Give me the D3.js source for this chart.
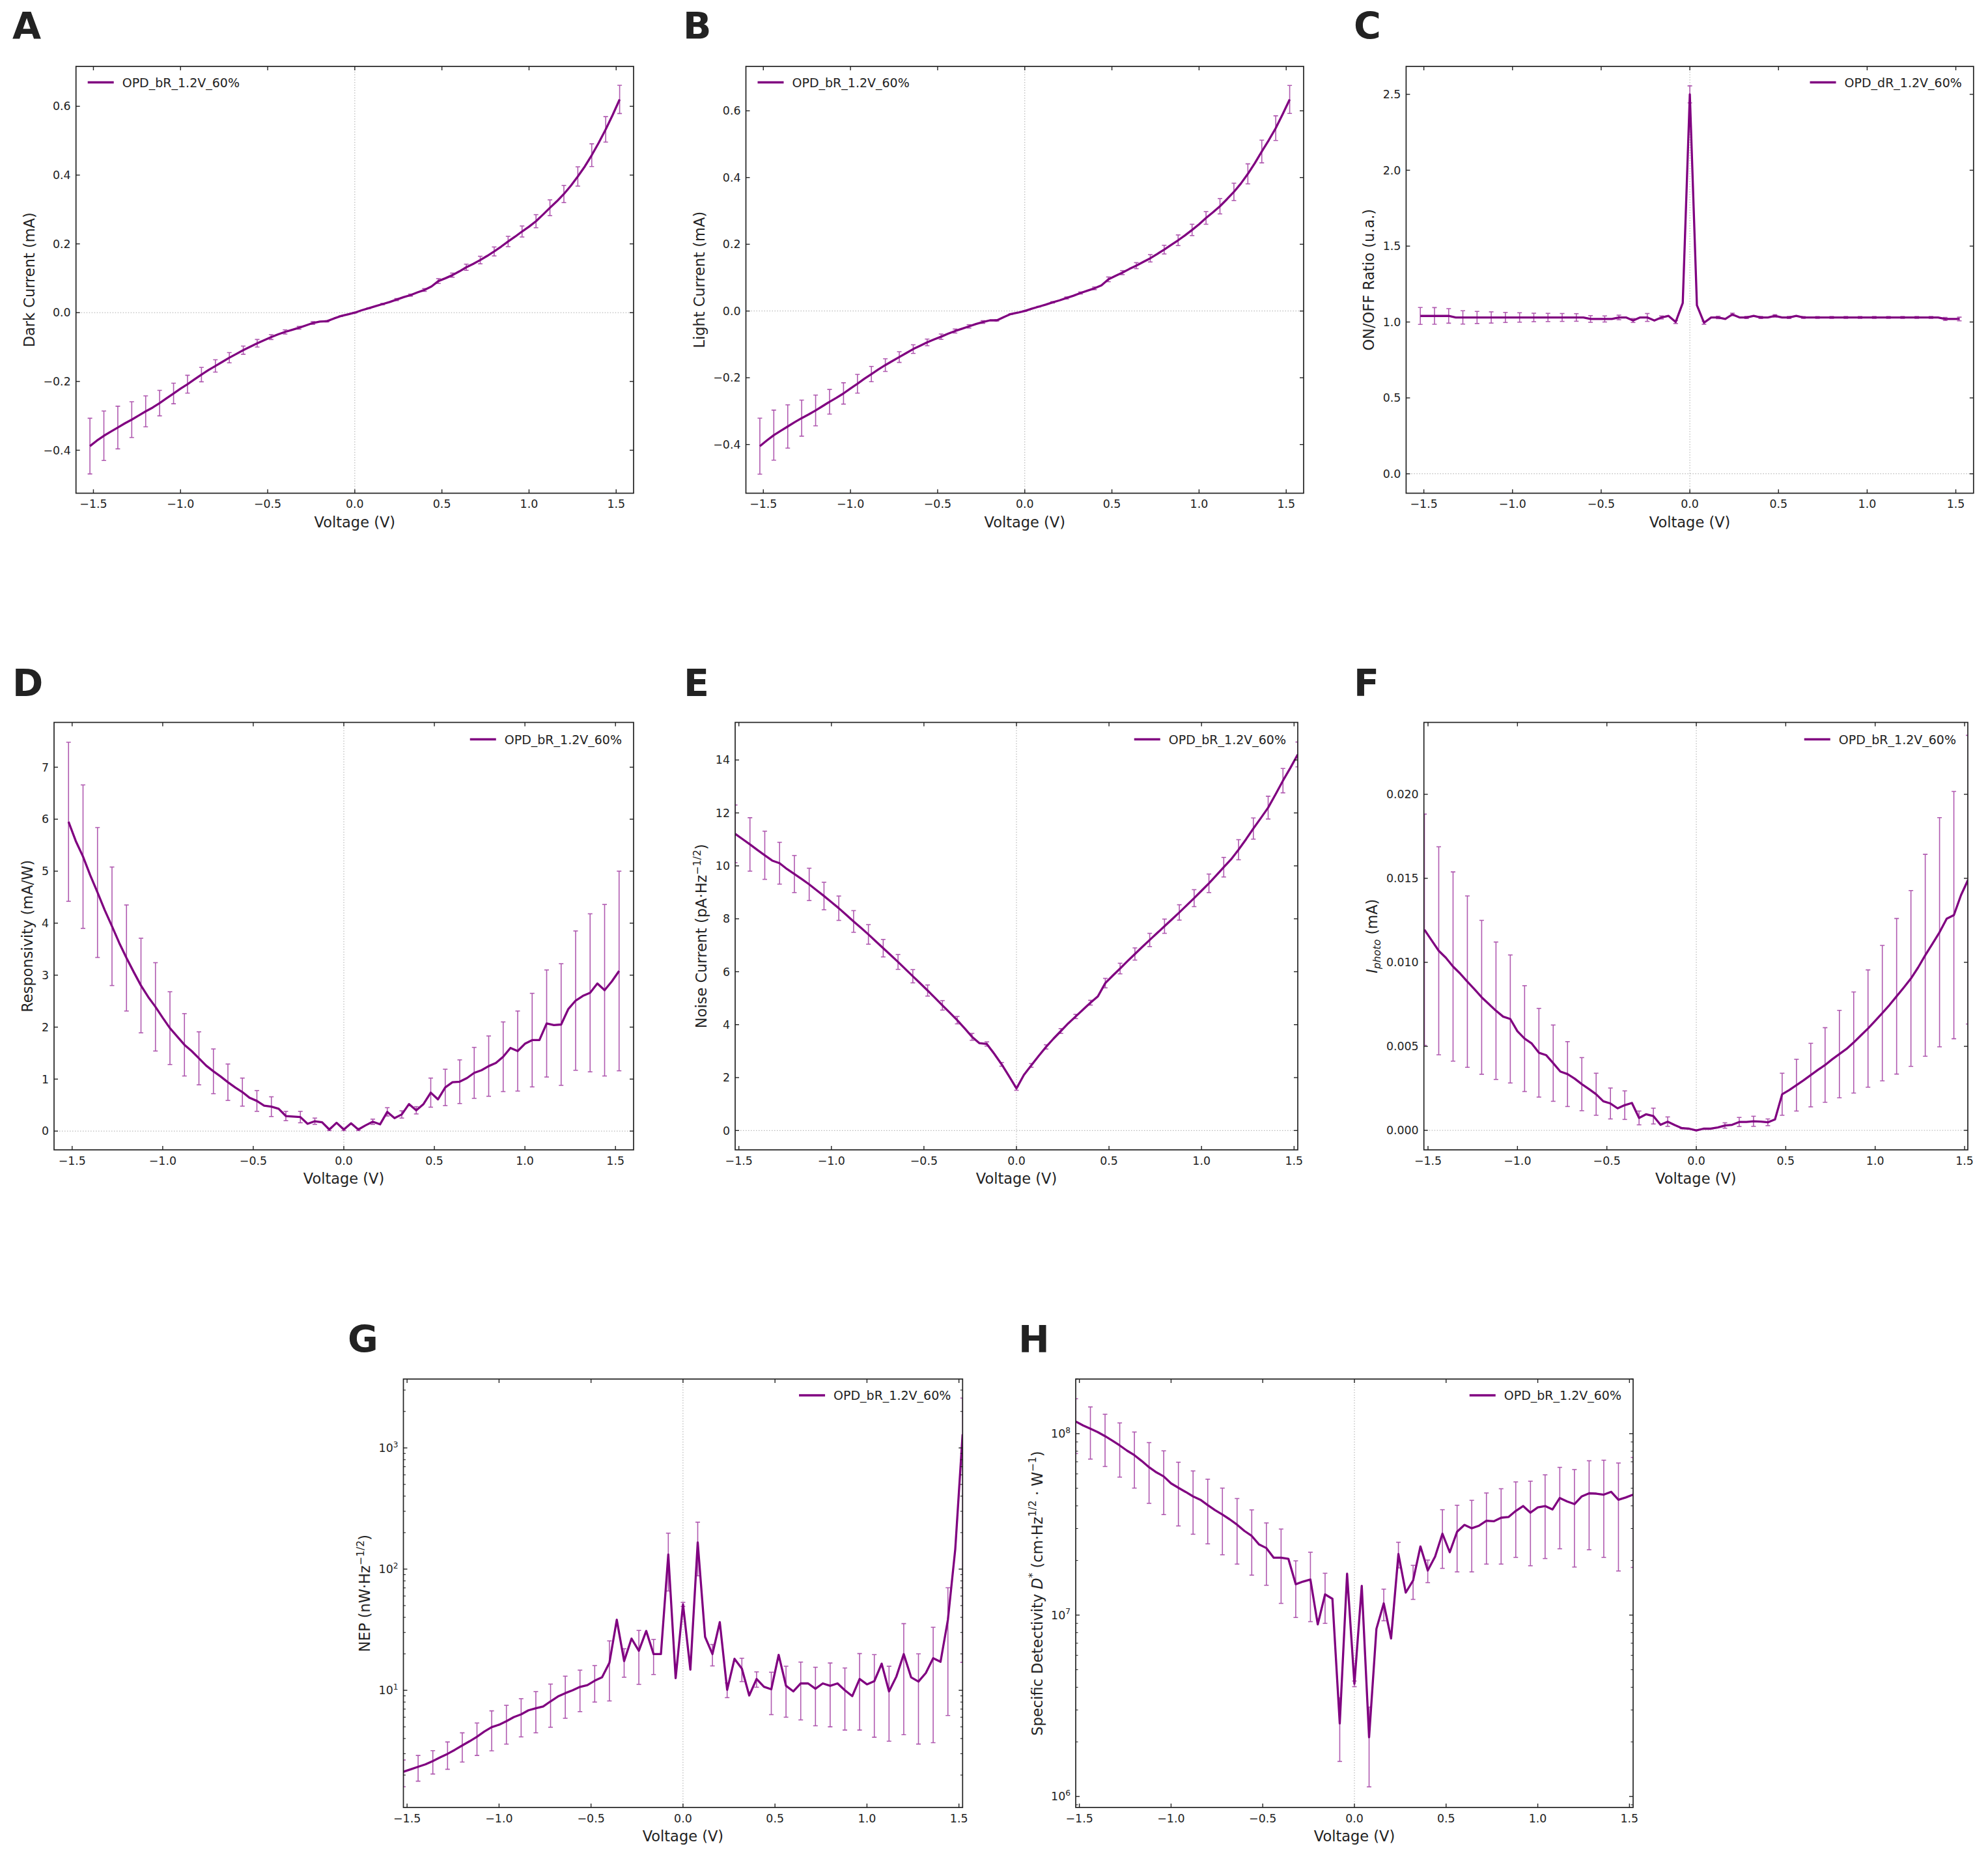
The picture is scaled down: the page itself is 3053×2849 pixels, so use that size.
<!DOCTYPE html>
<html lang="en">
<head>
    <meta charset="UTF-8">
    <title>OPD characterisation - 8 panels</title>
    <script src="https://d3js.org/d3.v7.min.js"></script>
    <style>
        body { margin: 0; background: #fff; }
        svg text { font-family: "DejaVu Sans", "Liberation Sans", sans-serif; fill: #222; }
    </style>
</head>
<body>
    <svg id="fig" width="3053" height="2849"></svg>

    <script>
        // Bias sweep (V), one point every 0.04 V; error bars are drawn on every other point
        const voltage = [-1.52, -1.48, -1.44, -1.40, -1.36, -1.32, -1.28, -1.24, -1.20, -1.16, -1.12, -1.08, -1.04, -1.00,
            -0.96, -0.92, -0.88, -0.84, -0.80, -0.76, -0.72, -0.68, -0.64, -0.60, -0.56, -0.52, -0.48, -0.44, -0.40, -0.36,
            -0.32, -0.28, -0.24, -0.20, -0.16, -0.12, -0.08, -0.04, 0.00, 0.04, 0.08, 0.12, 0.16, 0.20, 0.24, 0.28, 0.32,
            0.36, 0.40, 0.44, 0.48, 0.52, 0.56, 0.60, 0.64, 0.68, 0.72, 0.76, 0.80, 0.84, 0.88, 0.92, 0.96, 1.00, 1.04,
            1.08, 1.12, 1.16, 1.20, 1.24, 1.28, 1.32, 1.36, 1.40, 1.44, 1.48, 1.52];

        // A - dark current (mA)
        const darkCurrent = [-0.388, -0.372, -0.358, -0.346, -0.334, -0.322, -0.311, -0.299, -0.287, -0.276, -0.263, -0.249,
            -0.235, -0.221, -0.208, -0.194, -0.180, -0.167, -0.155, -0.143, -0.131, -0.120, -0.109, -0.099, -0.089, -0.080,
            -0.071, -0.063, -0.056, -0.050, -0.044, -0.037, -0.030, -0.026, -0.025, -0.017, -0.010, -0.005, 0.000, 0.007,
            0.013, 0.019, 0.025, 0.031, 0.038, 0.045, 0.051, 0.059, 0.066, 0.076, 0.092, 0.100, 0.109, 0.120, 0.132, 0.142,
            0.153, 0.165, 0.178, 0.192, 0.207, 0.221, 0.236, 0.250, 0.266, 0.285, 0.305, 0.324, 0.345, 0.369, 0.396, 0.425,
            0.458, 0.494, 0.533, 0.575, 0.620];
        const darkCurrentErr = [0.081, 0.072, 0.062, 0.052, 0.045, 0.037, 0.030, 0.026, 0.021, 0.018, 0.015, 0.012, 0.011,
            0.007, 0.006, 0.004, 0.004, 0.002, 0.001, 0.001, 0.001, 0.002, 0.003, 0.003, 0.004, 0.007, 0.006, 0.009, 0.011,
            0.013, 0.015, 0.016, 0.019, 0.023, 0.025, 0.028, 0.033, 0.037, 0.041];

        // B - light current (mA)
        const lightCurrent = [-0.405, -0.388, -0.372, -0.359, -0.346, -0.333, -0.321, -0.310, -0.298, -0.285, -0.272, -0.260,
            -0.247, -0.232, -0.218, -0.203, -0.189, -0.175, -0.162, -0.150, -0.138, -0.126, -0.114, -0.104, -0.094, -0.085,
            -0.077, -0.068, -0.060, -0.053, -0.046, -0.039, -0.033, -0.028, -0.028, -0.018, -0.009, -0.005, 0.000, 0.007,
            0.013, 0.019, 0.026, 0.032, 0.039, 0.046, 0.054, 0.061, 0.068, 0.077, 0.095, 0.105, 0.115, 0.126, 0.136, 0.147,
            0.158, 0.171, 0.184, 0.198, 0.212, 0.227, 0.243, 0.260, 0.279, 0.296, 0.314, 0.335, 0.357, 0.382, 0.411, 0.443,
            0.478, 0.512, 0.548, 0.590, 0.634];
        const lightCurrentErr = [0.084, 0.075, 0.065, 0.054, 0.046, 0.037, 0.032, 0.028, 0.023, 0.019, 0.016, 0.013, 0.010,
            0.008, 0.006, 0.005, 0.004, 0.002, 0.001, 0.001, 0.001, 0.002, 0.003, 0.003, 0.004, 0.007, 0.006, 0.009, 0.011,
            0.013, 0.016, 0.017, 0.019, 0.023, 0.026, 0.030, 0.034, 0.037, 0.042];

        // C - ON/OFF ratio
        const onOffRatio = [1.04, 1.04, 1.04, 1.04, 1.04, 1.03, 1.03, 1.03, 1.03, 1.03, 1.03, 1.03, 1.03, 1.03, 1.03, 1.03,
            1.03, 1.03, 1.03, 1.03, 1.03, 1.03, 1.03, 1.03, 1.02, 1.02, 1.02, 1.02, 1.03, 1.03, 1.01, 1.03, 1.03, 1.01, 1.03,
            1.04, 1.00, 1.125, 2.50, 1.11, 0.995, 1.03, 1.03, 1.02, 1.05, 1.03, 1.03, 1.04, 1.03, 1.03, 1.04, 1.03, 1.03, 1.04,
            1.03, 1.03, 1.03, 1.03, 1.03, 1.03, 1.03, 1.03, 1.03, 1.03, 1.03, 1.03, 1.03, 1.03, 1.03, 1.03, 1.03, 1.03, 1.03,
            1.03, 1.02, 1.02, 1.02];
        const onOffErr = [0.056, 0.055, 0.048, 0.044, 0.040, 0.037, 0.033, 0.031, 0.028, 0.027, 0.026, 0.025, 0.022, 0.020,
            0.015, 0.013, 0.026, 0.010, 0.010, 0.056, 0.010, 0.008, 0.008, 0.007, 0.007, 0.008, 0.007, 0.006, 0.006, 0.006,
            0.006, 0.006, 0.006, 0.006, 0.006, 0.006, 0.006, 0.010, 0.012];

        // D - responsivity (mA/W)
        const responsivity = [5.95, 5.58, 5.28, 4.92, 4.59, 4.25, 3.94, 3.62, 3.33, 3.06, 2.80, 2.58, 2.39, 2.18, 1.98, 1.82,
            1.66, 1.54, 1.40, 1.26, 1.15, 1.05, 0.94, 0.84, 0.75, 0.64, 0.58, 0.49, 0.47, 0.43, 0.29, 0.28, 0.27, 0.14, 0.19,
            0.17, 0.03, 0.16, 0.03, 0.15, 0.03, 0.11, 0.18, 0.13, 0.37, 0.25, 0.32, 0.52, 0.40, 0.52, 0.74, 0.61, 0.84, 0.94,
            0.95, 1.02, 1.12, 1.17, 1.25, 1.31, 1.43, 1.60, 1.54, 1.68, 1.75, 1.75, 2.07, 2.04, 2.05, 2.35, 2.51, 2.60, 2.66,
            2.84, 2.71, 2.88, 3.08];
        const responsivityErr = [1.53, 1.38, 1.25, 1.14, 1.02, 0.91, 0.85, 0.70, 0.60, 0.51, 0.43, 0.35, 0.27, 0.20, 0.19,
            0.09, 0.11, 0.06, 0.02, 0.02, 0.02, 0.05, 0.08, 0.07, 0.07, 0.28, 0.35, 0.42, 0.49, 0.58, 0.67, 0.77, 0.90, 1.03,
            1.17, 1.34, 1.52, 1.65, 1.92];

        // E - noise current (pA Hz^-1/2)
        const noiseCurrent = [11.21, 11.01, 10.81, 10.60, 10.40, 10.20, 10.10, 9.88, 9.69, 9.50, 9.30, 9.08, 8.86, 8.63, 8.40,
            8.15, 7.90, 7.66, 7.41, 7.15, 6.89, 6.63, 6.37, 6.10, 5.83, 5.56, 5.29, 5.01, 4.73, 4.45, 4.17, 3.86, 3.54, 3.30,
            3.27, 2.90, 2.50, 2.05, 1.59, 2.10, 2.46, 2.82, 3.16, 3.47, 3.76, 4.05, 4.31, 4.57, 4.83, 5.07, 5.57, 5.85, 6.12,
            6.40, 6.67, 6.94, 7.20, 7.46, 7.72, 7.98, 8.24, 8.51, 8.78, 9.06, 9.34, 9.64, 9.95, 10.25, 10.61, 11.00, 11.41,
            11.80, 12.20, 12.70, 13.22, 13.70, 14.21];
        const noiseErr = [1.09, 1.01, 0.91, 0.79, 0.70, 0.61, 0.52, 0.46, 0.41, 0.37, 0.33, 0.28, 0.25, 0.21, 0.18, 0.14, 0.13,
            0.08, 0.07, 0.07, 0.07, 0.08, 0.09, 0.08, 0.09, 0.18, 0.20, 0.23, 0.25, 0.27, 0.29, 0.32, 0.35, 0.37, 0.38, 0.40,
            0.43, 0.46, 0.47];

        // F - photocurrent (mA)
        const photoCurrent = [0.01194, 0.01131, 0.01069, 0.01027, 0.00975, 0.00933, 0.00885, 0.00840, 0.00792, 0.00752,
            0.00712, 0.00677, 0.00663, 0.00590, 0.00546, 0.00517, 0.00462, 0.00448, 0.00400, 0.00350, 0.00335, 0.00308,
            0.00275, 0.00246, 0.00215, 0.00173, 0.00160, 0.00131, 0.00150, 0.00163, 0.00074, 0.00096, 0.00085, 0.00033,
            0.00052, 0.00031, 0.00013, 0.00010, 0.00000, 0.00010, 0.00010, 0.00017, 0.00029, 0.00033, 0.00050, 0.00050,
            0.00054, 0.00052, 0.00048, 0.00065, 0.00215, 0.00240, 0.00269, 0.00298, 0.00329, 0.00360, 0.00389, 0.00423,
            0.00454, 0.00485, 0.00523, 0.00565, 0.00606, 0.00652, 0.00698, 0.00746, 0.00798, 0.00850, 0.00904, 0.00969,
            0.01042, 0.01110, 0.01179, 0.01260, 0.01281, 0.01400, 0.01492];
        const photoErr = [0.00688, 0.00619, 0.00563, 0.00510, 0.00458, 0.00409, 0.00381, 0.00315, 0.00264, 0.00227, 0.00193,
            0.00158, 0.00125, 0.00092, 0.00085, 0.00041, 0.00047, 0.00028, 0.00003, 0.00001, 0.00002, 0.00016, 0.00027,
            0.00030, 0.00020, 0.00125, 0.00154, 0.00189, 0.00222, 0.00260, 0.00301, 0.00349, 0.00403, 0.00463, 0.00523,
            0.00601, 0.00682, 0.00736, 0.00859];

        // G - NEP (nW Hz^-1/2)
        const nep = [2.13, 2.23, 2.34, 2.45, 2.61, 2.80, 2.99, 3.23, 3.51, 3.80, 4.14, 4.57, 4.97, 5.20, 5.56, 6.01, 6.33, 6.84,
            7.11, 7.36, 8.11, 8.89, 9.48, 10.0, 10.67, 11.03, 12.0, 12.82, 16.87, 38.2, 17.42, 26.7, 21.2, 30.9, 19.9, 19.9,
            132, 12.6, 51.2, 14.8, 166, 27.6, 19.9, 36.5, 10.1, 18.2, 15.1, 9.07, 12.4, 10.7, 10.2, 19.6, 10.9, 9.80, 11.4,
            11.4, 10.3, 11.4, 10.9, 11.4, 10.0, 8.95, 12.4, 11.2, 11.9, 16.6, 9.80, 13.0, 19.9, 12.8, 11.8, 13.9, 18.4, 17.2,
            38.2, 146, 1297];
        const nepErr = [0.53, 0.56, 0.57, 0.76, 0.95, 1.24, 1.80, 1.96, 2.2, 2.65, 3.15, 3.6, 4.0, 4.0, 8.7, 4.6, 10, 6.4, 66,
            2, 78, 4, 1.4, 3.3, 1.8, 3.9, 4.9, 5.7, 5.2, 5.9, 5.3, 7.7, 7.8, 6.0, 15.6, 8.2, 14.7, 32, 1280];

        // H - specific detectivity (cm Hz^1/2 W^-1)
        const detectivity = [1.167e8, 1.11e8, 1.064e8, 1.02e8, 9.69e7, 9.15e7, 8.61e7, 8.06e7, 7.61e7, 7.07e7, 6.53e7, 6.12e7,
            5.81e7, 5.32e7, 5.03e7, 4.77e7, 4.51e7, 4.32e7, 4.04e7, 3.79e7, 3.58e7, 3.37e7, 3.15e7, 2.91e7, 2.73e7, 2.45e7,
            2.34e7, 2.07e7, 2.07e7, 2.04e7, 1.48e7, 1.53e7, 1.57e7, 8.89e6, 1.30e7, 1.23e7, 2.53e6, 1.69e7, 4.18e6, 1.45e7,
            2.12e6, 8.40e6, 1.16e7, 7.43e6, 2.17e7, 1.33e7, 1.55e7, 2.39e7, 1.76e7, 2.10e7, 2.81e7, 2.22e7, 2.88e7, 3.14e7,
            3.01e7, 3.11e7, 3.31e7, 3.29e7, 3.44e7, 3.47e7, 3.75e7, 3.99e7, 3.67e7, 3.92e7, 3.99e7, 3.82e7, 4.42e7, 4.23e7,
            4.09e7, 4.51e7, 4.69e7, 4.67e7, 4.61e7, 4.78e7, 4.32e7, 4.45e7, 4.61e7];
        const detectivityErr = [3.9e7, 3.4e7, 3.1e7, 2.85e7, 2.6e7, 2.4e7, 2.23e7, 1.93e7, 1.72e7, 1.57e7, 1.43e7, 1.24e7,
            1.07e7, 8.8e6, 9.1e6, 5.1e6, 6.5e6, 4e6, 9.7e5, 1.5e5, 9.9e5, 2.3e6, 3.5e6, 3.3e6, 2.5e6, 1.0e7, 1.15e7, 1.28e7,
            1.4e7, 1.53e7, 1.67e7, 1.8e7, 1.94e7, 2.1e7, 2.25e7, 2.4e7, 2.53e7, 2.57e7, 2.78e7];

        const voltageTicks = [-1.5, -1.0, -0.5, 0.0, 0.5, 1.0, 1.5];

        const PURPLE = "#800080";
        const ERRCOL = "#b05ab0";
        const INK = "#222";
        const TICK_FS = 17.4, LEG_FS = 19, LAB_FS = 22.5;

        const svg = d3.select("#fig");
        let clipId = 0;

        // write a label made of plain / superscript / subscript / italic parts
        function richText(sel, parts, fs) {
            let shift = 0;
            parts.forEach(p => {
                const want = p.sup ? -0.42 * fs : (p.sub ? 0.22 * fs : 0);
                const ts = sel.append("tspan").text(p.t)
                    .attr("dy", want - shift)
                    .attr("font-size", (p.sup || p.sub) ? fs * 0.7 : fs);
                if (p.italic) ts.attr("font-style", "italic");
                shift = want;
            });
        }

        function drawPanel(cfg) {
            const w = cfg.box[2] - cfg.box[0];
            const h = cfg.box[3] - cfg.box[1];
            const g = svg.append("g").attr("transform", `translate(${cfg.box[0]},${cfg.box[1]})`);

            const x = d3.scaleLinear().domain(cfg.xDomain).range([0, w]);
            const y = (cfg.log ? d3.scaleLog() : d3.scaleLinear()).domain(cfg.yDomain).range([h, 0]);

            const cid = "clip" + (clipId++);
            g.append("clipPath").attr("id", cid).append("rect").attr("width", w).attr("height", h);
            const plot = g.append("g").attr("clip-path", `url(#${cid})`);

            // dotted zero lines
            plot.append("line").attr("x1", x(0)).attr("x2", x(0)).attr("y1", 0).attr("y2", h)
                .attr("stroke", "#aaa").attr("stroke-width", 1).attr("stroke-dasharray", "1.5,2.5");
            if (!cfg.log) {
                plot.append("line").attr("x1", 0).attr("x2", w).attr("y1", y(0)).attr("y2", y(0))
                    .attr("stroke", "#aaa").attr("stroke-width", 1).attr("stroke-dasharray", "1.5,2.5");
            }

            // error bars on every other sample
            const bars = cfg.err.map((e, i) => {
                const v = cfg.values[2 * i];
                let lo = v - e;
                if (cfg.log && lo <= 0) lo = cfg.yDomain[0] * 0.5;
                return { vx: voltage[2 * i], lo: lo, hi: v + e };
            });
            const eb = plot.append("g").attr("stroke", ERRCOL).attr("stroke-width", 1.6).attr("fill", "none");
            eb.selectAll("line.v").data(bars).enter().append("line")
                .attr("x1", d => x(d.vx)).attr("x2", d => x(d.vx))
                .attr("y1", d => y(d.lo)).attr("y2", d => y(d.hi));
            ["lo", "hi"].forEach(k => {
                eb.selectAll("line.c" + k).data(bars).enter().append("line")
                    .attr("x1", d => x(d.vx) - 3.5).attr("x2", d => x(d.vx) + 3.5)
                    .attr("y1", d => y(d[k])).attr("y2", d => y(d[k]));
            });

            // data line
            const line = d3.line().x((d, i) => x(voltage[i])).y(d => y(d));
            plot.append("path").datum(cfg.values).attr("d", line)
                .attr("fill", "none").attr("stroke", PURPLE).attr("stroke-width", 3.3)
                .attr("stroke-linejoin", "round");

            // frame
            g.append("rect").attr("width", w).attr("height", h)
                .attr("fill", "none").attr("stroke", INK).attr("stroke-width", 1.7);

            // x ticks (inward, bottom and top) + labels
            const tk = g.append("g").attr("stroke", INK).attr("stroke-width", 1.4);
            voltageTicks.forEach(t => {
                const px = x(t);
                tk.append("line").attr("x1", px).attr("x2", px).attr("y1", h).attr("y2", h - 6);
                tk.append("line").attr("x1", px).attr("x2", px).attr("y1", 0).attr("y2", 6);
                g.append("text").attr("x", px).attr("y", h + 22.5).attr("text-anchor", "middle")
                    .attr("font-size", TICK_FS).text(d3.format(".1f")(t));
            });

            // y ticks
            const yLabels = g.append("g");
            cfg.yTicks.forEach(t => {
                const py = y(t);
                tk.append("line").attr("x1", 0).attr("x2", 6).attr("y1", py).attr("y2", py);
                tk.append("line").attr("x1", w).attr("x2", w - 6).attr("y1", py).attr("y2", py);
                const txt = yLabels.append("text").attr("x", -8).attr("y", py + 6.2)
                    .attr("text-anchor", "end").attr("font-size", TICK_FS);
                if (cfg.log) {
                    richText(txt, [{ t: "10" }, { t: String(Math.round(Math.log10(t))), sup: true }], TICK_FS);
                } else {
                    txt.text(d3.format(cfg.yFormat)(t));
                }
            });
            if (cfg.log) {
                const [d0, d1] = cfg.yDomain;
                for (let e = Math.floor(Math.log10(d0)); e <= Math.ceil(Math.log10(d1)); e++) {
                    for (let m = 2; m <= 9; m++) {
                        const v = m * Math.pow(10, e);
                        if (v < d0 || v > d1) continue;
                        const py = y(v);
                        tk.append("line").attr("x1", 0).attr("x2", 3.5).attr("y1", py).attr("y2", py).attr("stroke-width", 1.1);
                        tk.append("line").attr("x1", w).attr("x2", w - 3.5).attr("y1", py).attr("y2", py).attr("stroke-width", 1.1);
                    }
                }
            }

            // axis labels
            g.append("text").attr("x", w / 2).attr("y", h + 52).attr("text-anchor", "middle")
                .attr("font-size", LAB_FS).text("Voltage (V)");
            const maxW = d3.max(yLabels.selectAll("text").nodes(), n => n.getBBox().width);
            const yl = g.append("text").attr("text-anchor", "middle").attr("font-size", LAB_FS)
                .attr("transform", `translate(${-(21.5 + maxW)},${h / 2}) rotate(-90)`);
            richText(yl, cfg.yLabel, LAB_FS);

            // legend
            const leg = g.append("g").attr("transform", `translate(0,${cfg.legendY})`);
            const lt = leg.append("text").attr("y", 7).attr("font-size", LEG_FS).text(cfg.legend);
            let tx;
            if (cfg.legendLeft) {
                tx = 71;
            } else {
                tx = w - 18 - lt.node().getComputedTextLength();
            }
            lt.attr("x", tx);
            leg.append("line").attr("x1", tx - 53).attr("x2", tx - 13).attr("y1", 0).attr("y2", 0)
                .attr("stroke", PURPLE).attr("stroke-width", 3.3);

            // panel letter
            svg.append("text").attr("x", cfg.letterPos[0]).attr("y", cfg.letterPos[1])
                .attr("font-size", 57).attr("font-weight", "bold").text(cfg.letter);
        }

        const panels = [
            { letter: "A", letterPos: [19, 60], box: [116.7, 102, 973, 757.5], values: darkCurrent, err: darkCurrentErr,
              xDomain: [-1.6, 1.6], yDomain: [-0.525, 0.716], yTicks: [-0.4, -0.2, 0, 0.2, 0.4, 0.6], yFormat: ".1f",
              yLabel: [{ t: "Dark Current (mA)" }], legend: "OPD_bR_1.2V_60%", legendLeft: true, legendY: 24.5 },
            { letter: "B", letterPos: [1049, 60], box: [1145.5, 102, 2002, 757.5], values: lightCurrent, err: lightCurrentErr,
              xDomain: [-1.6, 1.6], yDomain: [-0.546, 0.733], yTicks: [-0.4, -0.2, 0, 0.2, 0.4, 0.6], yFormat: ".1f",
              yLabel: [{ t: "Light Current (mA)" }], legend: "OPD_bR_1.2V_60%", legendLeft: true, legendY: 24.5 },
            { letter: "C", letterPos: [2079, 60], box: [2159.4, 102, 3030.8, 757.5], values: onOffRatio, err: onOffErr,
              xDomain: [-1.6, 1.6], yDomain: [-0.128, 2.684], yTicks: [0, 0.5, 1, 1.5, 2, 2.5], yFormat: ".1f",
              yLabel: [{ t: "ON/OFF Ratio (u.a.)" }], legend: "OPD_dR_1.2V_60%", legendLeft: false, legendY: 24.5 },
            { letter: "D", letterPos: [19, 1069], box: [83, 1109.5, 973, 1766], values: responsivity, err: responsivityErr,
              xDomain: [-1.6, 1.6], yDomain: [-0.361, 7.862], yTicks: [0, 1, 2, 3, 4, 5, 6, 7], yFormat: "d",
              yLabel: [{ t: "Responsivity (mA/W)" }], legend: "OPD_bR_1.2V_60%", legendLeft: false, legendY: 26 },
            { letter: "E", letterPos: [1050, 1069], box: [1129, 1109.5, 1993, 1766], values: noiseCurrent, err: noiseErr,
              xDomain: [-1.52, 1.52], yDomain: [-0.73, 15.42], yTicks: [0, 2, 4, 6, 8, 10, 12, 14], yFormat: "d",
              yLabel: [{ t: "Noise Current (pA·Hz" }, { t: "−1/2", sup: true }, { t: ")" }],
              legend: "OPD_bR_1.2V_60%", legendLeft: false, legendY: 26 },
            { letter: "F", letterPos: [2079, 1069], box: [2186.7, 1109.5, 3022, 1766], values: photoCurrent, err: photoErr,
              xDomain: [-1.523, 1.518], yDomain: [-0.00116, 0.02428], yTicks: [0, 0.005, 0.01, 0.015, 0.02], yFormat: ".3f",
              yLabel: [{ t: "I", italic: true }, { t: "photo", sub: true, italic: true }, { t: " (mA)" }],
              legend: "OPD_bR_1.2V_60%", legendLeft: false, legendY: 26 },
            { letter: "G", letterPos: [534, 2077], box: [619.5, 2118, 1478.3, 2776], values: nep, err: nepErr, log: true,
              xDomain: [-1.52, 1.52], yDomain: [1.08, 3700], yTicks: [10, 100, 1000],
              yLabel: [{ t: "NEP (nW·Hz" }, { t: "−1/2", sup: true }, { t: ")" }],
              legend: "OPD_bR_1.2V_60%", legendLeft: false, legendY: 25 },
            { letter: "H", letterPos: [1564, 2077], box: [1652, 2118, 2508, 2776], values: detectivity, err: detectivityErr,
              log: true, xDomain: [-1.52, 1.52], yDomain: [8.7e5, 2.0e8], yTicks: [1e6, 1e7, 1e8],
              yLabel: [{ t: "Specific Detectivity " }, { t: "D", italic: true }, { t: "*", sup: true },
                       { t: "  (cm·Hz" }, { t: "1/2", sup: true }, { t: " · W" }, { t: "−1", sup: true }, { t: ")" }],
              legend: "OPD_bR_1.2V_60%", legendLeft: false, legendY: 25 }
        ];

        panels.forEach(drawPanel);
    </script>
</body>
</html>
